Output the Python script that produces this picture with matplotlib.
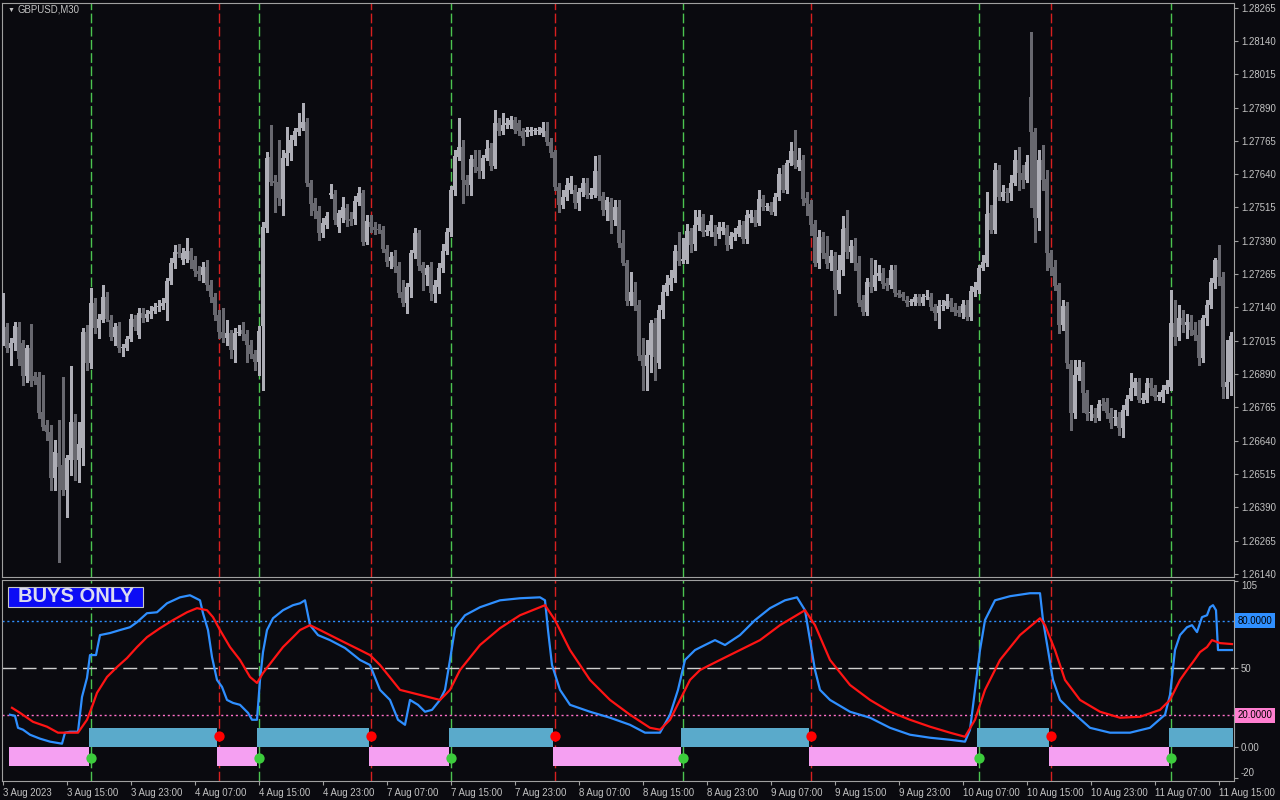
import numpy as np
import matplotlib
matplotlib.use('agg')
import matplotlib.pyplot as plt
from matplotlib.patches import Rectangle
from matplotlib.transforms import blended_transform_factory

# GBPUSD M30 candles, first bar = 3 Aug 2023 07:00
opens = [
    1.27067, 1.27067, 1.26988, 1.27007, 1.27067, 1.27007, 1.26883, 1.26988, 1.26883, 1.26879,
    1.26748, 1.26699, 1.26673, 1.26501, 1.26594, 1.26549, 1.26456, 1.26568, 1.26711, 1.26568,
    1.26613, 1.27048, 1.26932, 1.27157, 1.27063, 1.27093, 1.27179, 1.27093, 1.27029, 1.27071,
    1.26988, 1.26988, 1.27022, 1.27097, 1.27037, 1.27119, 1.27101, 1.27116, 1.27127, 1.27142,
    1.27146, 1.27157, 1.27239, 1.27307, 1.27348, 1.27318, 1.27322, 1.27352, 1.27318, 1.27277,
    1.27262, 1.27292, 1.27224, 1.27179, 1.27112, 1.27048, 1.27026, 1.27044, 1.26981, 1.27044,
    1.27056, 1.27041, 1.26999, 1.26966, 1.26936, 1.27071, 1.27438, 1.27704, 1.27614, 1.27611,
    1.27547, 1.27701, 1.27719, 1.27768, 1.27798, 1.27813, 1.27836, 1.27607, 1.27532, 1.27502,
    1.27419, 1.27449, 1.27562, 1.27566, 1.27442, 1.27476, 1.27513, 1.27472, 1.27472, 1.27536,
    1.27569, 1.27386, 1.27461, 1.27442, 1.27434, 1.27431, 1.27359, 1.27314, 1.27333, 1.27296,
    1.27198, 1.27157, 1.27217, 1.27344, 1.27419, 1.27299, 1.27262, 1.27292, 1.27191, 1.27217,
    1.27288, 1.27352, 1.27423, 1.27581, 1.27704, 1.27742, 1.27618, 1.27599, 1.27697, 1.27667,
    1.27652, 1.27701, 1.27738, 1.27671, 1.27832, 1.27802, 1.27824, 1.27824, 1.27843, 1.27832,
    1.27802, 1.27798, 1.27798, 1.27802, 1.27802, 1.27794, 1.27802, 1.27761, 1.27723, 1.27592,
    1.27524, 1.27554, 1.27581, 1.27581, 1.27532, 1.27573, 1.27607, 1.27562, 1.27562, 1.27652,
    1.27558, 1.27506, 1.27536, 1.27468, 1.27517, 1.27382, 1.27307, 1.27164, 1.27198, 1.27149,
    1.26962, 1.26921, 1.26962, 1.27082, 1.26932, 1.27131, 1.27198, 1.27224, 1.27251, 1.27352,
    1.27314, 1.27318, 1.27427, 1.27378, 1.27449, 1.27479, 1.27423, 1.27427, 1.27423, 1.27416,
    1.27427, 1.27438, 1.27374, 1.27404, 1.27416, 1.27449, 1.27397, 1.27476, 1.27479, 1.27457,
    1.27547, 1.27517, 1.27521, 1.27498, 1.27554, 1.27641, 1.27581, 1.27682, 1.27727, 1.27667,
    1.27693, 1.27551, 1.27528, 1.27453, 1.27307, 1.27404, 1.27344, 1.27307, 1.27333, 1.27206,
    1.27281, 1.27438, 1.27348, 1.27371, 1.27307, 1.27168, 1.27123, 1.27236, 1.27217, 1.27258,
    1.27269, 1.27232, 1.27224, 1.27281, 1.27194, 1.27191, 1.27168, 1.27161, 1.27161, 1.27179,
    1.27157, 1.27179, 1.27179, 1.27142, 1.27119, 1.27146, 1.27146, 1.27164, 1.27142, 1.27131,
    1.27119, 1.27149, 1.27104, 1.27198, 1.27206, 1.27288, 1.27307, 1.27494, 1.27431, 1.27656,
    1.27554, 1.27573, 1.27569, 1.27607, 1.27693, 1.27644, 1.27618, 1.27929, 1.27798, 1.27476,
    1.27693, 1.27622, 1.27344, 1.27292, 1.27224, 1.27074, 1.27146, 1.26928, 1.26744, 1.26887,
    1.26917, 1.26819, 1.26744, 1.26741, 1.26726, 1.26778, 1.26786, 1.26744, 1.26726, 1.26729,
    1.26688, 1.26756, 1.26797, 1.26838, 1.26861, 1.26793, 1.26793, 1.26857, 1.26838, 1.26804,
    1.26804, 1.26831, 1.26842, 1.27082, 1.27029, 1.27101, 1.27074, 1.27086, 1.27056, 1.27037,
    1.26951, 1.27101, 1.27149, 1.27232, 1.27318, 1.27254, 1.26842, 1.26861,
]
closes = [
    1.27176, 1.26988, 1.27007, 1.27071, 1.26947, 1.26883, 1.26988, 1.26864, 1.26864, 1.26744,
    1.26692, 1.26673, 1.26501, 1.26598, 1.26542, 1.26456, 1.26576, 1.26711, 1.26568, 1.26628,
    1.27048, 1.26932, 1.27157, 1.27063, 1.27097, 1.27179, 1.27097, 1.27029, 1.27067, 1.26988,
    1.26992, 1.27022, 1.27097, 1.27067, 1.27119, 1.27101, 1.27116, 1.27127, 1.27142, 1.27146,
    1.27157, 1.27239, 1.27307, 1.27348, 1.27341, 1.27344, 1.27352, 1.27318, 1.27277, 1.27266,
    1.27292, 1.27224, 1.27179, 1.27112, 1.27048, 1.27026, 1.27044, 1.26981, 1.27044, 1.27048,
    1.27041, 1.26999, 1.26966, 1.26936, 1.27052, 1.27442, 1.27701, 1.27611, 1.27607, 1.27551,
    1.27701, 1.27719, 1.27768, 1.27802, 1.27813, 1.27836, 1.27607, 1.27528, 1.27502, 1.27419,
    1.27457, 1.27483, 1.27569, 1.27468, 1.27494, 1.27517, 1.27468, 1.27464, 1.27539, 1.27569,
    1.27386, 1.27464, 1.27442, 1.27431, 1.27431, 1.27359, 1.27311, 1.27329, 1.27292, 1.27194,
    1.27157, 1.27217, 1.27344, 1.27419, 1.27296, 1.27269, 1.27288, 1.27194, 1.27224, 1.27288,
    1.27352, 1.27423, 1.27581, 1.27708, 1.27742, 1.27618, 1.27599, 1.27697, 1.27667, 1.27652,
    1.27701, 1.27734, 1.27671, 1.27832, 1.27802, 1.27824, 1.27832, 1.27843, 1.27806, 1.27802,
    1.27776, 1.27806, 1.27806, 1.27806, 1.27806, 1.27813, 1.27761, 1.27719, 1.27592, 1.27524,
    1.27554, 1.27599, 1.27607, 1.27532, 1.27573, 1.27607, 1.27562, 1.27569, 1.27652, 1.27558,
    1.27506, 1.27543, 1.27464, 1.27517, 1.27382, 1.27307, 1.27164, 1.27198, 1.27146, 1.26958,
    1.26921, 1.26962, 1.27082, 1.26954, 1.27131, 1.27198, 1.27232, 1.27251, 1.27352, 1.27314,
    1.27322, 1.27427, 1.27374, 1.27449, 1.27479, 1.27423, 1.27431, 1.27464, 1.27404, 1.27442,
    1.27442, 1.27374, 1.27408, 1.27419, 1.27446, 1.27397, 1.27487, 1.27491, 1.27457, 1.27547,
    1.27517, 1.27521, 1.27498, 1.27554, 1.27641, 1.27581, 1.27682, 1.27727, 1.27674, 1.27693,
    1.27547, 1.27532, 1.27449, 1.27307, 1.27404, 1.27344, 1.27303, 1.27333, 1.27206, 1.27281,
    1.27434, 1.27348, 1.27371, 1.27307, 1.27157, 1.27123, 1.27236, 1.27217, 1.27262, 1.27269,
    1.27228, 1.27221, 1.27281, 1.27194, 1.27187, 1.27179, 1.27157, 1.27164, 1.27179, 1.27157,
    1.27179, 1.27183, 1.27142, 1.27119, 1.27146, 1.27149, 1.27164, 1.27142, 1.27123, 1.27119,
    1.27153, 1.27104, 1.27202, 1.27217, 1.27288, 1.27311, 1.27491, 1.27431, 1.27656, 1.27554,
    1.27573, 1.27569, 1.27607, 1.27693, 1.27644, 1.27618, 1.27686, 1.27798, 1.27476, 1.27693,
    1.27618, 1.27344, 1.27288, 1.27221, 1.27074, 1.27146, 1.26932, 1.26744, 1.26887, 1.26917,
    1.26819, 1.26741, 1.26748, 1.26726, 1.26778, 1.26771, 1.26744, 1.26707, 1.26729, 1.26688,
    1.26756, 1.26797, 1.26838, 1.26861, 1.26793, 1.26801, 1.26857, 1.26838, 1.26804, 1.26812,
    1.26831, 1.26849, 1.27082, 1.27029, 1.27101, 1.27074, 1.27086, 1.27056, 1.27037, 1.26951,
    1.27101, 1.27149, 1.27236, 1.27318, 1.27254, 1.26842, 1.26861, 1.27033,
]
highs = [
    1.27194, 1.27082, 1.27026, 1.27086, 1.27086, 1.27018, 1.26999, 1.27078, 1.26898, 1.26898,
    1.26887, 1.26718, 1.26699, 1.26643, 1.26718, 1.26879, 1.26587, 1.26921, 1.26741, 1.26711,
    1.27063, 1.27074, 1.27213, 1.27176, 1.27116, 1.27224, 1.27198, 1.27112, 1.27082, 1.27086,
    1.27003, 1.27033, 1.27116, 1.27112, 1.27138, 1.27138, 1.27131, 1.27146, 1.27157, 1.27168,
    1.27176, 1.27251, 1.27326, 1.27374, 1.27378, 1.27363, 1.27401, 1.27363, 1.27333, 1.27296,
    1.27311, 1.27318, 1.27243, 1.27194, 1.27131, 1.27138, 1.27093, 1.27056, 1.27063, 1.27074,
    1.27086, 1.27056, 1.27018, 1.26981, 1.27071, 1.27461, 1.27723, 1.27824, 1.27637, 1.27768,
    1.27731, 1.27817, 1.27787, 1.27813, 1.27869, 1.27907, 1.27851, 1.27618, 1.27551, 1.27521,
    1.27476, 1.27498, 1.27603, 1.27581, 1.27506, 1.27554, 1.27528, 1.27498, 1.27558, 1.27592,
    1.27581, 1.27487, 1.27487, 1.27461, 1.27453, 1.27446, 1.27374, 1.27348, 1.27356, 1.27311,
    1.27243, 1.27232, 1.27356, 1.27438, 1.27431, 1.27311, 1.27299, 1.27311, 1.27243, 1.27307,
    1.27378, 1.27438, 1.27596, 1.27731, 1.27851, 1.27768, 1.27637, 1.27712, 1.27731, 1.27731,
    1.27712, 1.27768, 1.27757, 1.27881, 1.27851, 1.27869, 1.27851, 1.27858, 1.27854, 1.27843,
    1.27813, 1.27817, 1.27817, 1.27813, 1.27817, 1.27836, 1.27836, 1.27776, 1.27731, 1.27607,
    1.27581, 1.27626, 1.27633, 1.27599, 1.27588, 1.27626, 1.27626, 1.27588, 1.27708, 1.27712,
    1.27573, 1.27554, 1.27551, 1.27543, 1.27543, 1.27431, 1.27318, 1.27273, 1.27236, 1.27168,
    1.27026, 1.27018, 1.27093, 1.27101, 1.27149, 1.27224, 1.27262, 1.27281, 1.27374, 1.27423,
    1.27401, 1.27453, 1.27438, 1.27506, 1.27506, 1.27491, 1.27449, 1.27487, 1.27449, 1.27461,
    1.27461, 1.27449, 1.27423, 1.27438, 1.27468, 1.27464, 1.27506, 1.27506, 1.27506, 1.27581,
    1.27562, 1.27532, 1.27536, 1.27569, 1.27663, 1.27674, 1.27693, 1.27761, 1.27806, 1.27738,
    1.27712, 1.27573, 1.27543, 1.27468, 1.27431, 1.27423, 1.27408, 1.27356, 1.27348, 1.27337,
    1.27483, 1.27506, 1.27393, 1.27401, 1.27333, 1.27187, 1.27251, 1.27326, 1.27318, 1.27299,
    1.27288, 1.27251, 1.27299, 1.27299, 1.27206, 1.27198, 1.27183, 1.27172, 1.27191, 1.27191,
    1.27191, 1.27206, 1.27194, 1.27153, 1.27168, 1.27168, 1.27191, 1.27176, 1.27157, 1.27146,
    1.27168, 1.27168, 1.27221, 1.27236, 1.27299, 1.27337, 1.27573, 1.27524, 1.27682, 1.27674,
    1.27599, 1.27588, 1.27637, 1.27731, 1.27742, 1.27674, 1.27712, 1.28173, 1.27813, 1.27731,
    1.27749, 1.27656, 1.27356, 1.27318, 1.27232, 1.27168, 1.27161, 1.26943, 1.26943, 1.26943,
    1.26936, 1.26831, 1.26774, 1.26763, 1.26793, 1.26801, 1.26801, 1.26763, 1.26756, 1.26748,
    1.26774, 1.26812, 1.26894, 1.26876, 1.26876, 1.26819, 1.26876, 1.26876, 1.26849, 1.26823,
    1.26849, 1.26868, 1.27206, 1.27168, 1.27149, 1.27131, 1.27116, 1.27112, 1.27086, 1.27093,
    1.27112, 1.27168, 1.27251, 1.27326, 1.27374, 1.27273, 1.27018, 1.27048,
]
lows = [
    1.26999, 1.26973, 1.26924, 1.26981, 1.26924, 1.26849, 1.26861, 1.26846, 1.26853, 1.26726,
    1.26681, 1.26643, 1.26456, 1.26456, 1.26186, 1.26437, 1.26354, 1.26512, 1.26493, 1.26486,
    1.26549, 1.26906, 1.26913, 1.27044, 1.27026, 1.27086, 1.27089, 1.27018, 1.26999, 1.26973,
    1.26958, 1.26981, 1.27014, 1.27056, 1.27026, 1.27086, 1.27089, 1.27101, 1.27119, 1.27127,
    1.27134, 1.27093, 1.27228, 1.27288, 1.27329, 1.27303, 1.27311, 1.27288, 1.27258, 1.27243,
    1.27236, 1.27206, 1.27161, 1.27093, 1.27026, 1.27011, 1.26999, 1.26951, 1.26936, 1.27037,
    1.27018, 1.26936, 1.26951, 1.26906, 1.26887, 1.26831, 1.27423, 1.27599, 1.27498, 1.27524,
    1.27487, 1.27674, 1.27693, 1.27749, 1.27787, 1.27806, 1.27596, 1.27487, 1.27476, 1.27393,
    1.27404, 1.27438, 1.27551, 1.27453, 1.27423, 1.27461, 1.27446, 1.27449, 1.27453, 1.27524,
    1.27374, 1.27378, 1.27423, 1.27416, 1.27419, 1.27348, 1.27296, 1.27288, 1.27273, 1.27179,
    1.27146, 1.27119, 1.27179, 1.27326, 1.27281, 1.27206, 1.27224, 1.27168, 1.27161, 1.27194,
    1.27273, 1.27341, 1.27408, 1.27562, 1.27693, 1.27532, 1.27562, 1.27562, 1.27648, 1.27626,
    1.27626, 1.27693, 1.27656, 1.27663, 1.27787, 1.27791, 1.27813, 1.27813, 1.27794, 1.27787,
    1.27749, 1.27783, 1.27787, 1.27791, 1.27791, 1.27783, 1.27749, 1.27704, 1.27581, 1.27498,
    1.27513, 1.27543, 1.27569, 1.27513, 1.27506, 1.27558, 1.27551, 1.27551, 1.27554, 1.27543,
    1.27487, 1.27468, 1.27419, 1.27449, 1.27367, 1.27299, 1.27149, 1.27149, 1.27131, 1.26943,
    1.26831, 1.26831, 1.26898, 1.26868, 1.26913, 1.27101, 1.27187, 1.27206, 1.27236, 1.27299,
    1.27307, 1.27307, 1.27348, 1.27356, 1.27431, 1.27408, 1.27412, 1.27408, 1.27374, 1.27401,
    1.27416, 1.27356, 1.27363, 1.27393, 1.27408, 1.27382, 1.27382, 1.27461, 1.27446, 1.27449,
    1.27506, 1.27506, 1.27491, 1.27487, 1.27543, 1.27573, 1.27569, 1.27674, 1.27663, 1.27656,
    1.27524, 1.27487, 1.27412, 1.27296, 1.27288, 1.27326, 1.27288, 1.27281, 1.27112, 1.27194,
    1.27262, 1.27326, 1.27311, 1.27281, 1.27146, 1.27112, 1.27112, 1.27198, 1.27206, 1.27243,
    1.27213, 1.27206, 1.27213, 1.27183, 1.27179, 1.27168, 1.27146, 1.27149, 1.27149, 1.27149,
    1.27149, 1.27172, 1.27131, 1.27093, 1.27063, 1.27131, 1.27138, 1.27127, 1.27112, 1.27108,
    1.27101, 1.27093, 1.27093, 1.27183, 1.27194, 1.27281, 1.27296, 1.27419, 1.27419, 1.27543,
    1.27543, 1.27536, 1.27543, 1.27599, 1.27581, 1.27588, 1.27611, 1.27517, 1.27386, 1.27431,
    1.27581, 1.27281, 1.27262, 1.27206, 1.27044, 1.27056, 1.26913, 1.26681, 1.26726, 1.26868,
    1.26748, 1.26718, 1.26718, 1.26711, 1.26718, 1.26756, 1.26726, 1.26688, 1.26699, 1.26662,
    1.26654, 1.26737, 1.26793, 1.26812, 1.26786, 1.26782, 1.26786, 1.26812, 1.26793, 1.26793,
    1.26786, 1.26819, 1.26831, 1.26999, 1.27018, 1.27048, 1.27026, 1.27037, 1.27018, 1.26924,
    1.26936, 1.27074, 1.27138, 1.27213, 1.27224, 1.26801, 1.26801, 1.26812,
]

# oscillator (bar index, value)
blue_t = [1.75, 3, 3.75, 5, 6.75, 9.25, 11.75, 14.75, 15.5, 16.75,
          18.75, 19.75, 21, 21.75, 23.25, 24.25, 26.75, 29.25, 31.75, 33.5,
          36, 38.5, 41, 44.25, 46.75, 49.25, 50, 51.25, 52.25, 53.5,
          54.75, 56, 57.5, 59.25, 61.25, 62.25, 63.5, 64.25, 65, 66,
          67.5, 70, 72.5, 74.25, 75.5, 76.75, 78.75, 81.75, 85.5, 89.25,
          91.75, 94.25, 96.75, 98.75, 100.5, 101.75, 103.75, 105.5, 107.25, 109.25,
          110.5, 111.75, 113, 115.5, 119.25, 124.25, 129.25, 134.25, 135.5, 136.25,
          137.25, 139.25, 141.75, 146.75, 151.75, 156.75, 160.5, 164.25, 166.75, 168.75,
          170.5, 173, 175.5, 178, 180.5, 184.25, 188, 191.75, 195.5, 198.5,
          200.5, 201.75, 203, 204.25, 206.75, 211.75, 216.75, 221.75, 226.75, 231.75,
          236.75, 240.5, 241.75, 243, 244.25, 245.5, 248, 251.75, 256.75, 259.25,
          260, 261.25, 262.5, 264.25, 266.75, 271.75, 276.75, 281.75, 286.75, 290.5,
          291.75, 293, 294.25, 296, 297.25, 298.5, 299.75, 301, 301.75, 302.5,
          303.25, 303.75, 307.25]
blue_v = [20.3, 19.6, 12.0, 10.8, 7.6, 5.1, 3.2, 1.9, 8.9, 9.5,
          9.5, 31.6, 43.7, 58.2, 58.2, 70.9, 72.2, 74.1, 75.9, 79.1,
          84.8, 85.4, 91.1, 94.9, 96.2, 93.0, 84.8, 74.1, 57.0, 42.4,
          38.0, 29.7, 27.8, 26.6, 21.5, 17.1, 17.1, 42.4, 60.1, 74.1,
          81.6, 86.7, 89.9, 91.1, 93.0, 77.2, 70.9, 67.7, 62.7, 55.1,
          51.9, 36.1, 29.7, 17.1, 13.9, 29.7, 26.6, 22.2, 23.4, 29.7,
          36.1, 55.1, 75.3, 83.5, 88.6, 93.0, 94.3, 94.9, 93.0, 74.1,
          51.9, 36.1, 26.6, 22.2, 18.4, 13.9, 8.9, 8.9, 20.3, 36.1,
          55.1, 61.4, 64.6, 67.7, 64.6, 70.9, 80.4, 88.0, 93.0, 94.9,
          86.7, 67.7, 48.7, 36.1, 29.7, 22.2, 18.4, 12.0, 7.6, 5.7,
          4.4, 3.2, 10.8, 36.1, 61.4, 80.4, 93.0, 95.6, 97.5, 97.5,
          80.4, 61.4, 42.4, 29.7, 23.4, 12.0, 8.9, 8.9, 12.0, 20.3,
          32.9, 61.4, 70.9, 75.9, 77.2, 72.8, 82.3, 83.5, 88.6, 89.9,
          86.7, 61.4, 61.4]
red_t = [2.25, 4.25, 7.5, 11, 13.75, 18.75, 21, 22.25, 23.5, 26,
         28.5, 31, 33.5, 36, 39.25, 42.5, 46, 48.5, 51, 52.5,
         54.25, 56.75, 59.25, 61.75, 63.5, 65, 67.5, 70, 72.5, 74.25,
         76.75, 79.25, 84.25, 89.25, 91.75, 94.25, 99.25, 104.25, 109.25, 111.75,
         114.25, 119.25, 124.25, 129.25, 134.25, 135.5, 138, 141.75, 146.75, 151.75,
         156.75, 161.75, 164.25, 166.75, 169.25, 171.75, 174.25, 179.25, 184.25, 189.25,
         194.25, 199.25, 200.5, 203, 206.75, 211.75, 216.75, 221.75, 226.75, 231.75,
         236.75, 240.5, 243, 245.5, 249.25, 254.25, 259.25, 260.5, 263, 265.5,
         269.25, 274.25, 279.25, 284.25, 289.25, 291.75, 294.25, 296, 297.5, 299.25,
         301, 302.25, 304.25, 307.25]
red_v = [24.7, 21.5, 15.8, 12.7, 8.9, 8.9, 17.1, 25.3, 34.2, 44.3,
         50.6, 56.3, 63.3, 69.6, 75.3, 80.4, 85.4, 88.0, 86.7, 82.3,
         74.1, 63.3, 55.1, 44.3, 40.5, 46.8, 55.1, 63.3, 69.6, 74.1,
         77.2, 74.1, 67.7, 61.4, 58.2, 51.9, 36.1, 32.9, 29.7, 36.1,
         48.7, 64.6, 75.3, 83.5, 88.6, 89.9, 80.4, 61.4, 42.4, 29.7,
         20.3, 12.0, 10.8, 17.1, 29.7, 42.4, 48.7, 55.1, 61.4, 67.7,
         77.2, 84.8, 86.7, 77.2, 55.1, 39.2, 29.7, 22.2, 17.1, 12.7,
         8.9, 6.3, 17.1, 36.1, 55.1, 70.9, 81.6, 77.2, 61.4, 42.4,
         29.7, 22.2, 18.4, 19.0, 23.4, 29.7, 42.4, 48.7, 53.8, 60.1,
         63.3, 67.7, 65.8, 65.2]

buy_signals = [22, 64, 112, 170, 244, 292]
sell_signals = [54, 92, 138, 202, 262]
hist_start = 2
buy_level, sell_level = 12.0, -12.5
dot_buy, dot_sell = -7.0, 7.0

price_ticks = [1.28265, 1.28140, 1.28015, 1.27890, 1.27765, 1.27640, 1.27515, 1.27390, 1.27265,
               1.27140, 1.27015, 1.26890, 1.26765, 1.26640, 1.26515, 1.26390, 1.26265, 1.26140]
time_labels = ['3 Aug 2023', '3 Aug 15:00', '3 Aug 23:00', '4 Aug 07:00', '4 Aug 15:00',
               '4 Aug 23:00', '7 Aug 07:00', '7 Aug 15:00', '7 Aug 23:00', '8 Aug 07:00',
               '8 Aug 15:00', '8 Aug 23:00', '9 Aug 07:00', '9 Aug 15:00', '9 Aug 23:00',
               '10 Aug 07:00', '10 Aug 15:00', '10 Aug 23:00', '11 Aug 07:00', '11 Aug 15:00']
bars_per_label = 16

BG = '#0a0a0f'
SPINE = '#a0a0a0'
TXT = '#c4c4c4'
BULL = '#aeaeb6'
BEAR = '#68686f'
GREEN = '#4cc450'
RED = '#d82020'

plt.rcParams['font.family'] = ['Liberation Sans', 'DejaVu Sans']

fig = plt.figure(figsize=(12.8, 8), dpi=100, facecolor=BG)
ax = fig.add_axes([2 / 1280, 1 - 577 / 800, 1232 / 1280, 574 / 800])
ax2 = fig.add_axes([2 / 1280, 1 - 781 / 800, 1232 / 1280, 201 / 800])

# candles
o = np.array(opens)
c = np.array(closes)
h = np.maximum.reduce([np.array(highs), o, c])
l = np.minimum.reduce([np.array(lows), o, c])
x = np.arange(len(o))
col = np.where(c >= o, BULL, BEAR)
ax.vlines(x, l, h, colors=col, lw=0.75, zorder=3, antialiased=False)
ax.bar(x, np.maximum(np.abs(c - o), 0.00003), bottom=np.minimum(o, c),
       width=0.78, color=col, lw=0, zorder=4, antialiased=False)

for a in (ax, ax2):
    a.set_facecolor(BG)
    for s in a.spines.values():
        s.set_color(SPINE)
        s.set_linewidth(0.8)
    a.set_xlim(-0.25, 307.75)
    for b in buy_signals:
        a.axvline(b, color=GREEN, lw=1.0, ls=(0, (7, 2.5)), zorder=2)
    for b in sell_signals:
        a.axvline(b, color=RED, lw=1.0, ls=(0, (7, 2.5)), zorder=2)

ax.set_ylim(1.26129, 1.28282)
ax.yaxis.tick_right()
ax.set_yticks(price_ticks)
ax.set_yticklabels([f'{v:.5f}' for v in price_ticks])
ax.tick_params(axis='y', color=SPINE, labelcolor=TXT, labelsize=6.9, length=3, width=0.8, pad=2)
ax.set_xticks([])

# histogram of the current mode
hx = np.arange(hist_start, len(o))
mode = np.full(len(hx), sell_level)
events = sorted([(b, buy_level) for b in buy_signals] + [(b, sell_level) for b in sell_signals])
for b, lev in events:
    mode[hx >= b] = lev
ax2.bar(hx, np.where(mode > 0, mode, 0), width=1.0, color='#5aaacb', lw=0, zorder=3, antialiased=False)
ax2.bar(hx, np.where(mode < 0, mode, 0), width=1.0, color='#f5a0f2', lw=0, zorder=3, antialiased=False)

ax2.axhline(80, color='#2f8fff', lw=1.0, ls=(0, (1.5, 2.0)), zorder=2)
ax2.axhline(50, color='#cfcfcf', lw=1.0, ls=(0, (10, 4.5)), zorder=2)
ax2.axhline(20, color='#ff70c8', lw=1.0, ls=(0, (1.5, 2.0)), zorder=2)

ax2.plot(blue_t, blue_v, color='#2f8fff', lw=1.6, zorder=5)
ax2.plot(red_t, red_v, color='#ff1414', lw=1.6, zorder=5)
ax2.scatter(sell_signals, [dot_sell] * len(sell_signals), s=55, color='#ff0000', lw=0, zorder=6)
ax2.scatter(buy_signals, [dot_buy] * len(buy_signals), s=55, color='#3ccc3c', lw=0, zorder=6)

ax2.set_ylim(-21.8, 105.9)
ax2.yaxis.tick_right()
ax2.set_yticks([105, 50, 0, -20])
ax2.set_yticklabels(['105', '50', '0.00', '-20'])
ax2.tick_params(axis='y', color=SPINE, labelcolor=TXT, labelsize=6.9, length=3, width=0.8, pad=2)
for lbl in ax2.get_yticklabels():
    if lbl.get_text() == '105':
        lbl.set_va('top')
    elif lbl.get_text() == '-20':
        lbl.set_va('bottom')

ticks = np.arange(len(time_labels)) * bars_per_label
ax2.set_xticks(ticks)
ax2.set_xticklabels(time_labels)
ax2.tick_params(axis='x', color=SPINE, labelcolor=TXT, labelsize=6.9, length=3, width=0.8, pad=2)
for lbl in ax2.get_xticklabels():
    lbl.set_ha('left')

tr = blended_transform_factory(ax2.transAxes, ax2.transData)
ax2.text(1.003, 80, '80.0000', transform=tr, fontsize=6.9, color='#000000', va='center', ha='left',
         bbox=dict(boxstyle='square,pad=0.25', fc='#2f8fff', ec='none'), clip_on=False)
ax2.text(1.003, 20, '20.0000', transform=tr, fontsize=6.9, color='#000000', va='center', ha='left',
         bbox=dict(boxstyle='square,pad=0.25', fc='#ff7fd0', ec='none'), clip_on=False)

# mode label
fig.add_artist(Rectangle((8 / 1280, 1 - 607 / 800), 135 / 1280, 20 / 800, transform=fig.transFigure,
                         fc='#0c0cf5', ec='#c8c8c8', lw=0.8, zorder=10))
fig.text(75.5 / 1280, 1 - 597 / 800, 'BUYS ONLY', fontsize=14.5, fontweight='bold', color='#dcdcf0',
         ha='center', va='center', zorder=11)

fig.text(8 / 1280, 1 - 10 / 800, '\u25bc', fontsize=5, color=TXT, ha='left', va='center')
fig.text(18 / 1280, 1 - 10 / 800, 'GBPUSD,M30', fontsize=6.9, color=TXT, ha='left', va='center')

fig.savefig('out.png', dpi=100, facecolor=BG)
